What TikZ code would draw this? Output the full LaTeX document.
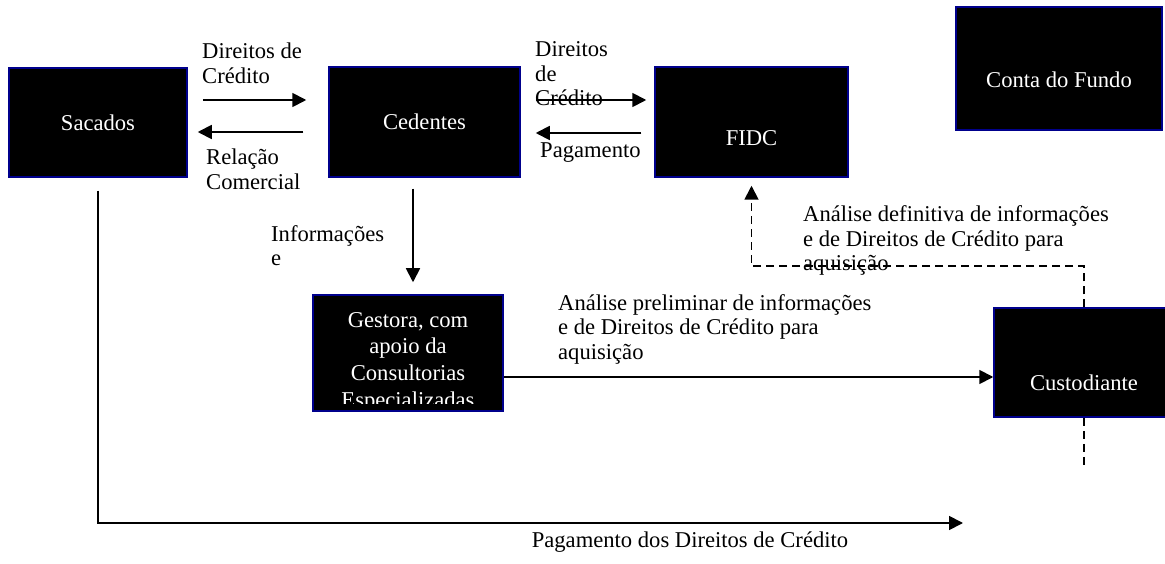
\documentclass[tikz,border=0pt]{standalone}
\usepackage{fontspec}
\setmainfont{Liberation Serif}
\usetikzlibrary{arrows.meta}
\definecolor{borda}{RGB}{0,0,140}

\begin{document}
\begin{tikzpicture}[x=1pt,y=-1pt,font=\fontsize{22.6}{24.5}\selectfont,
  caixa/.style={draw=borda,line width=1.5pt,fill=black,text=white,align=center,inner sep=0pt},
  dentro/.style={text=white,align=center,inner sep=0pt},
  rotulo/.style={align=left,inner sep=0pt,anchor=base west},
  linha/.style={line width=1.8pt},
  seta/.style={linha,-{Triangle[length=14pt,width=14pt]}},
  tracejada/.style={linha,dash pattern=on 8pt off 5pt}]
  \useasboundingbox (0,0) rectangle (1165,564);
  % caixas
  \node[caixa,minimum width=178pt,minimum height=109pt] (sacados) at (98,122.5) {Sacados};
  \node[caixa,minimum width=191pt,minimum height=110pt] (cedentes) at (424.5,122) {Cedentes};
  \node[caixa,minimum width=193pt,minimum height=110pt,
    label={[dentro,yshift=-16pt]center:FIDC}] (fidc) at (751.5,122) {};
  \node[caixa,minimum width=206pt,minimum height=123pt,
    label={[dentro,yshift=-11.5pt]center:Conta do Fundo}] (conta) at (1059,68.5) {};
  \node[caixa,minimum width=180pt,minimum height=109pt,
    label={[dentro,yshift=-20.5pt]center:Custodiante}] (custodiante) at (1084,362.5) {};
  \node[caixa,minimum width=190pt,minimum height=116pt,
    path picture={
      \clip ([yshift=8pt]path picture bounding box.south west) rectangle (path picture bounding box.north east);
      \node[dentro,draw=none,fill=none,minimum width=0pt,minimum height=0pt,font=\fontsize{22.6}{26.7}\selectfont]
        at ([yshift=-9pt]path picture bounding box.center) {Gestora, com\\apoio da\\Consultorias\\Especializadas};
    }] (gestora) at (408,353) {};
  % textos (base = ultima linha)
  \node[rotulo] (dc1) at (202,83.5) {Direitos de\\Crédito};
  \node[rotulo] (rc) at (206,189.5) {Relação\\Comercial};
  \node[rotulo] (dc2) at (535,106) {Direitos\\de\\Crédito};
  \node[rotulo] (pg) at (540,158) {Pagamento};
  \node[rotulo] (inf) at (271,265.5) {Informações\\e};
  \node[rotulo] (prel) at (558,359) {Análise preliminar de informações\\e de Direitos de Crédito para\\aquisição};
  \node[rotulo] (def) at (803,271) {Análise definitiva de informações\\e de Direitos de Crédito para\\aquisição};
  \node[anchor=base,inner sep=0pt] (pgdir) at (690,547) {Pagamento dos Direitos de Crédito};
  % setas
  \draw[seta,shorten <=15pt,shorten >=22pt] ([yshift=22pt]cedentes.west -| sacados.east) -- ([yshift=22pt]cedentes.west);
  \draw[seta,shorten <=25pt,shorten >=10pt] ([yshift=-10pt]cedentes.west) -- ([yshift=-10pt]cedentes.west -| sacados.east);
  \draw[seta,shorten <=15pt,shorten >=8pt] ([yshift=22pt]cedentes.east) -- ([yshift=22pt]fidc.west);
  \draw[seta,shorten <=13pt,shorten >=15pt] ([yshift=-11pt]fidc.west) -- ([yshift=-11pt]cedentes.east);
  \draw[seta,shorten <=11pt,shorten >=12pt] ([xshift=-11.5pt]cedentes.south) -- ([xshift=-11.5pt]cedentes.south |- gestora.north);
  \draw[seta] ([yshift=-24pt]gestora.east) -- ([yshift=-24pt]gestora.east -| custodiante.west);
  \draw[tracejada,-{Triangle[length=14pt,width=14pt]},shorten >=8pt] (custodiante.north) -- ++(0,-41) -| (fidc.south);
  \draw[tracejada] (custodiante.south) -- ++(0,50);
  \coordinate (fimpag) at (963,523);
  \draw[seta] ([yshift=-13pt]sacados.south) |- (fimpag);
\end{tikzpicture}
\end{document}
